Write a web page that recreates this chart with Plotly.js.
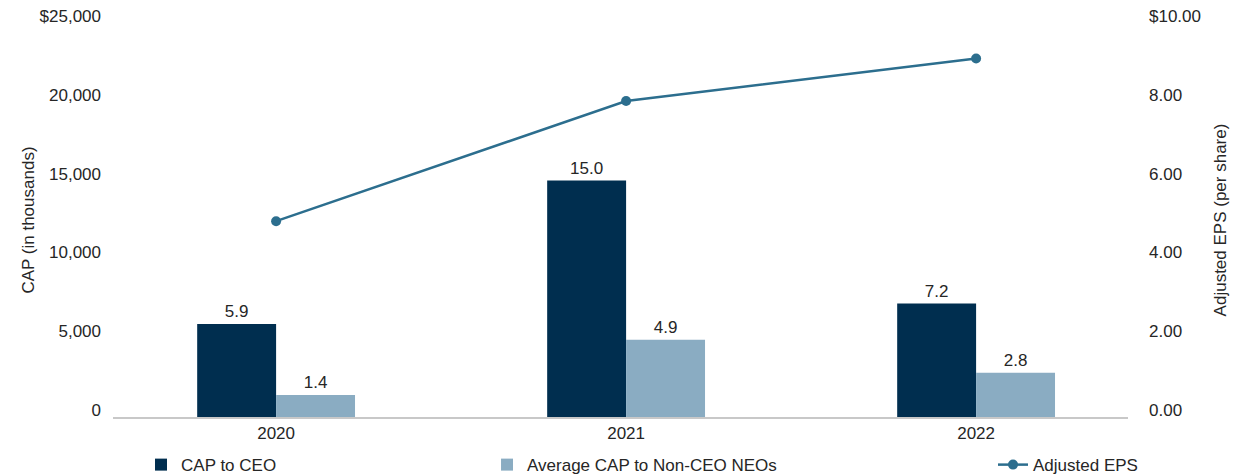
<!DOCTYPE html>
<html>
<head>
<meta charset="utf-8">
<script src="https://cdn.plot.ly/plotly-3.0.1.min.js"></script>
<style>html,body{margin:0;padding:0;background:#fff;}#chart{width:1234px;height:474px;}</style>
</head>
<body>
<div id="chart"></div>
<script>
const years = ["2020", "2021", "2022"];
const capCeo = [5900, 15000, 7200];
const capNonCeo = [1400, 4900, 2800];
const adjEps = [4.97, 8.02, 9.1];
const leftTickVals = [0, 5000, 10000, 15000, 20000, 25000];
const leftTickText = ["0", "5,000", "10,000", "15,000", "20,000", "$25,000"];
const rightTickVals = [0, 2, 4, 6, 8, 10];
const rightTickText = ["0.00", "2.00", "4.00", "6.00", "8.00", "$10.00"];

const font = "Liberation Sans, Arial, sans-serif";
const txt = "#262626";
const fs = 17;

const traces = [
  {
    type: "bar", name: "CAP to CEO", x: years, y: capCeo,
    marker: {color: "#002e4f"},
    text: capCeo.map(v => (v / 1000).toFixed(1)),
    textposition: "outside", cliponaxis: false,
    textfont: {family: font, size: fs, color: txt},
    legend: "legend", hoverinfo: "skip"
  },
  {
    type: "bar", name: "Average CAP to Non-CEO NEOs", x: years, y: capNonCeo,
    marker: {color: "#8aacc2"},
    text: capNonCeo.map(v => (v / 1000).toFixed(1)),
    textposition: "outside", cliponaxis: false,
    textfont: {family: font, size: fs, color: txt},
    legend: "legend2", hoverinfo: "skip"
  },
  {
    type: "scatter", mode: "lines+markers", name: "Adjusted EPS", x: years, y: adjEps,
    yaxis: "y2", line: {color: "#2c6e8e", width: 2.5},
    marker: {color: "#2c6e8e", size: 10},
    cliponaxis: false, legend: "legend3", hoverinfo: "skip"
  }
];

const legendBase = {
  orientation: "h", yanchor: "middle", y: -0.122, xanchor: "left",
  font: {family: font, size: fs, color: txt},
  bgcolor: "rgba(0,0,0,0)"
};

const layout = {
  width: 1234, height: 474,
  margin: {l: 113, r: 106, t: 23, b: 57, autoexpand: false},
  paper_bgcolor: "#fff", plot_bgcolor: "#fff",
  barmode: "group", bargap: 0.549, bargroupgap: 0,
  font: {family: font, size: fs, color: txt},
  xaxis: {
    type: "category", range: [-0.466, 2.434],
    showgrid: false, zeroline: false,
    showline: true, linecolor: "#c8c8c8", linewidth: 1.5,
    ticks: "", tickfont: {family: font, size: fs, color: txt}
  },
  yaxis: {
    range: [0, 25000], showgrid: false, zeroline: false, showline: false,
    tickvals: leftTickVals, ticktext: leftTickText, ticks: "",
    ticklabelstandoff: 11, ticklabelshift: -7,
    tickfont: {family: font, size: fs, color: txt},
    title: {text: "CAP (in thousands)", font: {family: font, size: fs, color: txt}, standoff: 0}
  },
  yaxis2: {
    overlaying: "y", side: "right", range: [0, 10],
    showgrid: false, zeroline: false, showline: false,
    tickvals: rightTickVals, ticktext: rightTickText, ticks: "",
    ticklabelstandoff: 20, ticklabelshift: -7,
    tickfont: {family: font, size: fs, color: txt},
    title: {text: "Adjusted EPS (per share)", font: {family: font, size: fs, color: txt}, standoff: 14}
  },
  showlegend: true,
  legend: Object.assign({}, legendBase, {x: 0.0276}),
  legend2: Object.assign({}, legendBase, {x: 0.3685}),
  legend3: Object.assign({}, legendBase, {x: 0.867})
};

Plotly.newPlot("chart", traces, layout, {displayModeBar: false, staticPlot: true});
</script>
</body>
</html>
